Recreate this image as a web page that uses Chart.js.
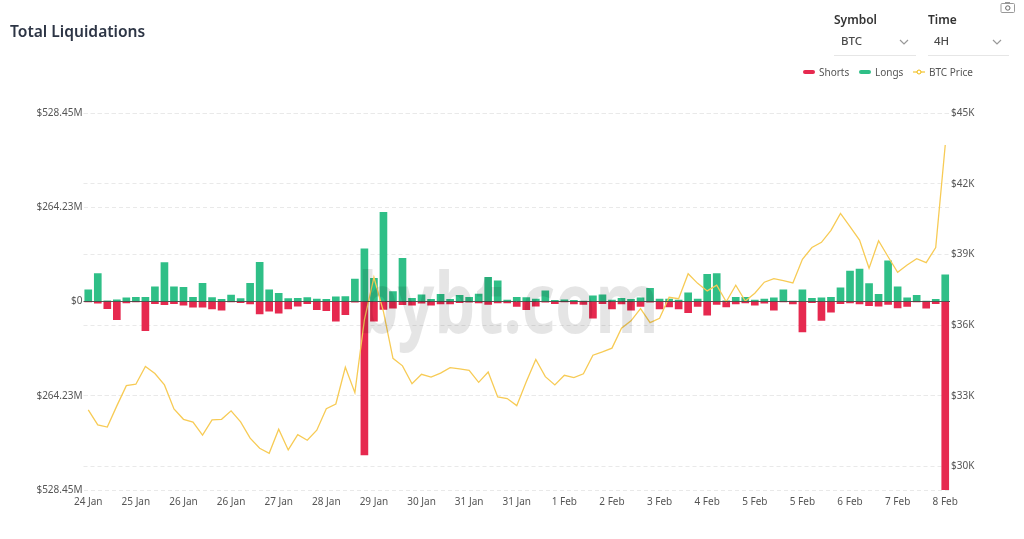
<!DOCTYPE html>
<html lang="en">
<head>
    <meta charset="UTF-8">
    <title>Total Liquidations</title>
    <script src="https://cdn.jsdelivr.net/npm/chart.js"></script>
    <style>
        html, body { margin: 0; padding: 0; background: #fff; }
        body { width: 1024px; height: 539px; position: relative; overflow: hidden; font-family: "Noto Sans", sans-serif; }
        #chartBox { position: absolute; left: 0; top: 0; width: 1024px; height: 539px; }
        .title { position: absolute; left: 10px; top: 20px; font-size: 15.6px; font-weight: 600; color: #2d3545; line-height: 22px; }
        .lbl { position: absolute; top: 12px; font-size: 12px; font-weight: 600; color: #333; line-height: 16px; }
        .val { position: absolute; top: 33px; font-size: 11.5px; font-weight: 500; color: #4a4a4a; line-height: 16px; }
        .under { position: absolute; top: 55px; height: 1px; background: #e6e6e6; }
        .chev { position: absolute; top: 39px; width: 10px; height: 7px; }
        .leg { position: absolute; top: 64px; font-size: 10px; color: #555; line-height: 16px; }
        .swatch { position: absolute; top: 70px; width: 12px; height: 4px; border-radius: 2px; }
        .watermark { position: absolute; left: 358px; top: 246px; font-size: 84px; font-weight: 700; line-height: 110px; color: rgba(0, 0, 0, 0.1); pointer-events: none; transform: scaleX(0.77); transform-origin: left top; }
        .cam { position: absolute; left: 1000px; top: 1px; }
    </style>
</head>
<body>
    <div id="chartBox"><canvas id="liqChart" width="1024" height="539"></canvas></div>
    <div class="watermark">bybt.com</div>

    <div class="title">Total Liquidations</div>

    <div class="lbl" style="left:834px">Symbol</div>
    <div class="val" style="left:841px">BTC</div>
    <svg class="chev" style="left:899px" viewBox="0 0 10 7"><path d="M1 1l4 4 4-4" fill="none" stroke="#999" stroke-width="1.2"/></svg>
    <div class="under" style="left:834px;width:82px"></div>

    <div class="lbl" style="left:928px">Time</div>
    <div class="val" style="left:934px">4H</div>
    <svg class="chev" style="left:992px" viewBox="0 0 10 7"><path d="M1 1l4 4 4-4" fill="none" stroke="#999" stroke-width="1.2"/></svg>
    <div class="under" style="left:928px;width:81px"></div>

    <div class="swatch" style="left:803px;background:#e6294f"></div>
    <div class="leg" style="left:819px">Shorts</div>
    <div class="swatch" style="left:859px;background:#2fbf87"></div>
    <div class="leg" style="left:875px">Longs</div>
    <svg style="position:absolute;left:913px;top:68px" width="12" height="8" viewBox="0 0 12 8"><path d="M0 4h12" stroke="#f0b90b" stroke-width="1"/><circle cx="6" cy="4" r="2" fill="#fff" stroke="#f0b90b"/></svg>
    <div class="leg" style="left:929px">BTC Price</div>

    <svg class="cam" width="16" height="12" viewBox="0 0 16 12"><rect x="1" y="2.5" width="13.5" height="9" rx="1" fill="none" stroke="#999"/><rect x="5" y="1" width="5" height="2" fill="#999"/><circle cx="7.8" cy="7" r="2.2" fill="none" stroke="#666"/></svg>

    <script>
        // Chart data (USD millions, BTC price in thousands)
        const categories = [
            '24 Jan', '24 Jan', '24 Jan', '24 Jan', '24 Jan',
            '25 Jan', '25 Jan', '25 Jan', '25 Jan', '25 Jan',
            '26 Jan', '26 Jan', '26 Jan', '26 Jan', '26 Jan',
            '26 Jan', '26 Jan', '26 Jan', '26 Jan', '26 Jan',
            '27 Jan', '27 Jan', '27 Jan', '27 Jan', '27 Jan',
            '28 Jan', '28 Jan', '28 Jan', '28 Jan', '28 Jan',
            '29 Jan', '29 Jan', '29 Jan', '29 Jan', '29 Jan',
            '30 Jan', '30 Jan', '30 Jan', '30 Jan', '30 Jan',
            '31 Jan', '31 Jan', '31 Jan', '31 Jan', '31 Jan',
            '31 Jan', '31 Jan', '31 Jan', '31 Jan', '31 Jan',
            '1 Feb', '1 Feb', '1 Feb', '1 Feb', '1 Feb',
            '2 Feb', '2 Feb', '2 Feb', '2 Feb', '2 Feb',
            '3 Feb', '3 Feb', '3 Feb', '3 Feb', '3 Feb',
            '4 Feb', '4 Feb', '4 Feb', '4 Feb', '4 Feb',
            '5 Feb', '5 Feb', '5 Feb', '5 Feb', '5 Feb',
            '5 Feb', '5 Feb', '5 Feb', '5 Feb', '5 Feb',
            '6 Feb', '6 Feb', '6 Feb', '6 Feb', '6 Feb',
            '7 Feb', '7 Feb', '7 Feb', '7 Feb', '7 Feb',
            '8 Feb'
        ];
        const longs = [
            33, 78, 2, 5, 10, 12, 12, 41, 109, 41,
            40, 12, 51, 11, 6, 18, 8, 51, 110, 33,
            23, 8, 9, 11, 7, 6, 13, 14, 63, 148,
            65, 250, 28, 121, 9, 19, 6, 20, 6, 17,
            12, 21, 68, 58, 4, 12, 11, 7, 30, 3,
            5, 3, 1, 16, 19, 4, 9, 6, 10, 37,
            7, 7, 4, 24, 7, 76, 78, 2, 12, 12,
            4, 7, 10, 33, 1, 33, 9, 10, 12, 38,
            85, 91, 50, 20, 114, 41, 10, 17, 1, 6,
            75
        ];
        const shorts = [
            -1, -5, -20, -51, -4, -1, -82, -6, -9, -6,
            -10, -16, -16, -21, -24, -1, -3, -7, -35, -27,
            -33, -21, -13, -6, -23, -26, -55, -37, -2, -430,
            -55, -22, -19, -9, -10, -5, -10, -7, -7, -3,
            -2, -4, -8, -4, -4, -14, -23, -13, -2, -6,
            -1, -7, -8, -47, -6, -21, -7, -24, -14, -2,
            -21, -15, -21, -31, -14, -38, -8, -15, -7, -4,
            -10, -5, -24, -1, -7, -85, -3, -53, -30, -6,
            -4, -7, -12, -13, -8, -18, -14, -1, -19, -6,
            -560
        ];
        const btcPrice = [
            32.40, 31.76, 31.67, 32.57, 33.43, 33.49, 34.24, 33.94, 33.46, 32.44,
            32.00, 31.88, 31.33, 31.98, 32.00, 32.36, 31.89, 31.20, 30.77, 30.56,
            31.58, 30.70, 31.35, 31.11, 31.54, 32.45, 32.65, 34.21, 33.13, 36.22,
            38.03, 36.57, 34.59, 34.27, 33.51, 33.91, 33.79, 33.96, 34.19, 34.14,
            34.08, 33.57, 34.01, 32.95, 32.88, 32.58, 33.59, 34.54, 33.81, 33.46,
            33.87, 33.77, 33.93, 34.72, 34.86, 35.02, 35.87, 36.18, 36.70, 36.10,
            36.29, 37.18, 37.12, 38.18, 37.77, 37.45, 37.69, 36.99, 37.69, 37.02,
            37.35, 37.82, 37.97, 37.89, 37.79, 38.79, 39.29, 39.51, 40.02, 40.74,
            40.18, 39.61, 38.41, 39.58, 38.90, 38.24, 38.55, 38.82, 38.65, 39.29,
            43.64
        ];
        const liqTicks = [-528.45, -264.23, 0, 264.23, 528.45];
        const priceTicks = [30, 33, 36, 39, 42, 45];

        // dark baseline on top of the bars
        const zeroLine = {
            id: 'zeroLine',
            afterDatasetsDraw(chart) {
                const y = chart.scales.y.getPixelForValue(0);
                const ctx = chart.ctx;
                ctx.save();
                ctx.strokeStyle = 'rgba(60, 60, 60, 0.85)';
                ctx.lineWidth = 1;
                ctx.beginPath();
                ctx.moveTo(chart.chartArea.left, y);
                ctx.lineTo(chart.chartArea.right, y);
                ctx.stroke();
                ctx.restore();
            }
        };

        const tickFont = { family: '"Noto Sans", sans-serif', size: 10 };

        new Chart(document.getElementById('liqChart').getContext('2d'), {
            type: 'bar',
            data: {
                labels: categories,
                datasets: [
                    { type: 'line', label: 'BTC Price', data: btcPrice, yAxisID: 'y1', order: 0,
                      borderColor: '#f7cb55', borderWidth: 1.3, pointRadius: 0, tension: 0, fill: false },
                    { label: 'Shorts', data: shorts, yAxisID: 'y', order: 1, backgroundColor: '#e6294f', barThickness: 7 },
                    { label: 'Longs', data: longs, yAxisID: 'y', order: 2, backgroundColor: '#2fbf87', barThickness: 7 }
                ]
            },
            plugins: [zeroLine],
            options: {
                responsive: false,
                animation: false,
                layout: { padding: { top: 113, left: 0, right: 0, bottom: 0 } },
                plugins: { legend: { display: false }, tooltip: { enabled: false } },
                scales: {
                    x: {
                        stacked: true,
                        grid: { display: false, drawTicks: false },
                        border: { display: false },
                        afterFit: s => { s.height = 49; },
                        ticks: {
                            autoSkip: false,
                            maxRotation: 0,
                            padding: 6,
                            color: '#555',
                            font: tickFont,
                            callback(value, index) { return index % 5 === 0 ? categories[index] : ''; }
                        }
                    },
                    y: {
                        stacked: true,
                        position: 'left',
                        min: -528.45,
                        max: 528.45,
                        afterBuildTicks: s => { s.ticks = liqTicks.map(v => ({ value: v })); },
                        afterFit: s => { s.width = 83.5; },
                        grid: { color: '#e9e9e9', drawTicks: false },
                        border: { display: false, dash: [4, 3] },
                        ticks: {
                            padding: 1,
                            color: '#555',
                            font: tickFont,
                            callback: v => v === 0 ? '$0' : '$' + Math.abs(v).toFixed(2) + 'M'
                        }
                    },
                    y1: {
                        position: 'right',
                        min: 29,
                        max: 45,
                        afterBuildTicks: s => { s.ticks = priceTicks.map(v => ({ value: v })); },
                        afterFit: s => { s.width = 74; },
                        grid: { color: '#e9e9e9', drawTicks: false },
                        border: { display: false, dash: [4, 3] },
                        ticks: {
                            padding: 1,
                            color: '#555',
                            font: tickFont,
                            callback: v => '$' + v + 'K'
                        }
                    }
                }
            }
        });
    </script>
</body>
</html>
